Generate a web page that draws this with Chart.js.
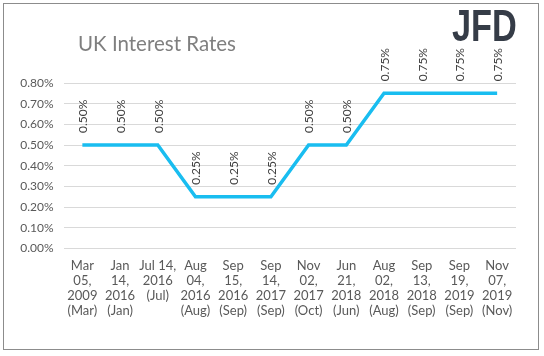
<!DOCTYPE html>
<html>
<head>
<meta charset="utf-8">
<script src="https://cdn.jsdelivr.net/npm/chart.js@4/dist/chart.umd.min.js"></script>
<style>
  html, body { margin: 0; padding: 0; background: #fff; }
  #wrap { position: relative; width: 544px; height: 356px; }
  #logo { position: absolute; left: 452px; top: 4px; font-family: "Liberation Sans", Arial, sans-serif; font-weight: bold; font-size: 44px; color: #353c47; transform: scaleX(0.78); transform-origin: left top; letter-spacing: 0px; line-height: 44px; }
</style>
</head>
<body>
<div id="wrap">
  <canvas id="c" width="544" height="356"></canvas>
  <div id="logo">JFD</div>
</div>
<script>
const categories = [
  ["Mar", "05,", "2009", "(Mar)"],
  ["Jan", "14,", "2016", "(Jan)"],
  ["Jul 14,", "2016", "(Jul)"],
  ["Aug", "04,", "2016", "(Aug)"],
  ["Sep", "15,", "2016", "(Sep)"],
  ["Sep", "14,", "2017", "(Sep)"],
  ["Nov", "02,", "2017", "(Oct)"],
  ["Jun", "21,", "2018", "(Jun)"],
  ["Aug", "02,", "2018", "(Aug)"],
  ["Sep", "13,", "2018", "(Sep)"],
  ["Sep", "19,", "2019", "(Sep)"],
  ["Nov", "07,", "2019", "(Nov)"]
];
const rates = [0.50, 0.50, 0.50, 0.25, 0.25, 0.25, 0.50, 0.50, 0.75, 0.75, 0.75, 0.75];
const yTicks = [0, 0.1, 0.2, 0.3, 0.4, 0.5, 0.6, 0.7, 0.8];
const titleText = "UK Interest Rates";

const FONT = "Lato, 'Open Sans', sans-serif";

const decor = {
  id: 'decor',
  beforeDraw(chart) {
    const ctx = chart.ctx;
    ctx.save();
    ctx.fillStyle = '#fff';
    ctx.fillRect(0, 0, chart.width, chart.height);
    ctx.strokeStyle = '#8c8c8c';
    ctx.lineWidth = 1;
    ctx.strokeRect(3.5, 3.5, 535, 346);
    ctx.fillStyle = '#7f7f7f';
    ctx.font = "20.5px " + FONT;
    ctx.textBaseline = 'alphabetic';
    ctx.textAlign = 'left';
    ctx.fillText(titleText, 78, 51);
    ctx.restore();
  },
  afterDatasetsDraw(chart) {
    const ctx = chart.ctx;
    const meta = chart.getDatasetMeta(0);
    ctx.save();
    ctx.fillStyle = '#404040';
    ctx.font = "12px " + FONT;
    ctx.textAlign = 'left';
    ctx.textBaseline = 'middle';
    meta.data.forEach((pt, i) => {
      ctx.save();
      ctx.translate(pt.x + 1, pt.y - 12);
      ctx.rotate(-Math.PI / 2);
      ctx.fillText(rates[i].toFixed(2) + '%', 0, 0);
      ctx.restore();
    });
    ctx.restore();
  }
};

new Chart(document.getElementById('c'), {
  type: 'line',
  data: {
    labels: categories,
    datasets: [{
      data: rates,
      borderColor: '#19bdf0',
      borderWidth: 3.5,
      pointRadius: 0,
      tension: 0,
      fill: false,
      borderCapStyle: 'butt',
      borderJoinStyle: 'miter'
    }]
  },
  options: {
    responsive: false,
    animation: false,
    devicePixelRatio: 1,
    layout: { padding: { left: 0, right: 28, top: 83, bottom: 0 } },
    plugins: { legend: { display: false }, tooltip: { enabled: false }, title: { display: false } },
    scales: {
      x: {
        offset: true,
        grid: { display: false, drawTicks: false },
        border: { display: false },
        ticks: { color: '#595959', font: { family: FONT, size: 13, lineHeight: '15px' }, padding: 10, maxRotation: 0, autoSkip: false },
        afterFit(scale) { scale.height = 356 - 248.5; }
      },
      y: {
        min: 0, max: 0.8,
        afterBuildTicks(scale) { scale.ticks = yTicks.map(v => ({ value: v })); },
        grid: { color: '#d9d9d9', drawTicks: false, lineWidth: 1 },
        border: { display: false },
        ticks: { color: '#595959', font: { family: FONT, size: 12 }, padding: 10, callback: v => v.toFixed(2) + '%' },
        afterFit(scale) { scale.width = 63.5; }
      }
    }
  },
  plugins: [decor]
});
</script>
</body>
</html>
